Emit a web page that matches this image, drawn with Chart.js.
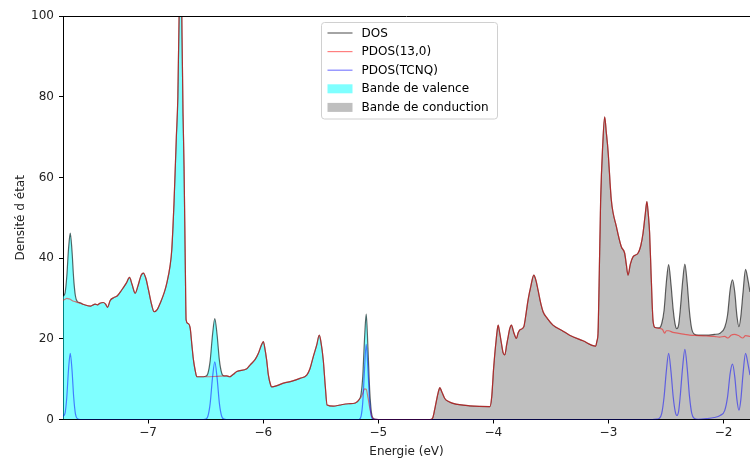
<!DOCTYPE html>
<html>
<head>
<meta charset="utf-8">
<script src="https://cdn.jsdelivr.net/npm/chart.js@4"></script>
<style>
  html, body { margin: 0; padding: 0; background: #fff; }
  #c { display: block; }
</style>
</head>
<body>
<canvas id="c" width="750" height="458"></canvas>
<script>
// ---------- DATA ----------
const xTicks = [-7, -6, -5, -4, -3, -2];
const yTicks = [0, 20, 40, 60, 80, 100];
const seriesLabels = ['DOS', 'PDOS(13,0)', 'PDOS(TCNQ)', 'Bande de valence', 'Bande de conduction'];
const fermiSplit = -4.8; // energy separating valence and conduction fills

// PDOS(13,0): [energy (eV), density]
const pdos13 = [
  [-7.74,29.5],[-7.722,29.8],[-7.707,30.0],[-7.692,29.9],[-7.677,29.8],[-7.662,29.5],[-7.647,29.3],[-7.632,29.2],
  [-7.615,29.0],[-7.59,28.8],[-7.56,28.5],[-7.50,28.1],[-7.46,28.6],[-7.44,28.4],[-7.42,28.8],[-7.39,29.0],
  [-7.37,28.6],[-7.353,27.8],[-7.33,29.5],[-7.30,30.2],[-7.27,30.6],[-7.23,32.1],[-7.19,33.8],[-7.162,35.2],
  [-7.14,33.5],[-7.113,31.3],[-7.09,33.0],[-7.06,35.8],[-7.041,36.3],[-7.02,35.0],[-6.997,32.1],[-6.97,28.5],
  [-6.948,26.7],[-6.92,27.3],[-6.896,28.8],[-6.86,31.5],[-6.838,33.8],[-6.81,38.0],[-6.795,42.0],[-6.775,54.0],
  [-6.755,70.0],[-6.742,80.0],[-6.731,100.0],[-6.722,130.0],[-6.712,112.0],[-6.706,96.0],[-6.697,76.0],[-6.688,62.7],
  [-6.677,38.0],[-6.670,24.7],[-6.655,23.8],[-6.635,22.7],[-6.62,18.5],[-6.606,14.7],[-6.59,12.0],[-6.577,10.6],
  [-6.49,10.6],[-6.40,10.7],[-6.317,10.8],[-6.29,10.6],[-6.274,10.9],[-6.26,11.2],[-6.23,11.9],[-6.143,12.6],
  [-6.115,13.5],[-6.07,14.9],[-6.042,16.4],[-6.015,18.5],[-5.999,19.3],[-5.985,17.5],[-5.970,14.7],[-5.955,11.0],
  [-5.935,8.5],[-5.926,8.1],[-5.88,8.4],[-5.825,9.0],[-5.75,9.5],[-5.681,10.2],[-5.622,11.0],[-5.595,12.5],
  [-5.565,15.6],[-5.535,18.5],[-5.513,20.9],[-5.50,19.5],[-5.478,14.7],[-5.46,8.0],[-5.445,3.6],[-5.391,3.3],
  [-5.333,3.6],[-5.26,3.9],[-5.20,4.1],[-5.165,5.0],[-5.15,5.5],[-5.135,6.5],[-5.12,7.6],[-5.105,7.5],
  [-5.09,5.5],[-5.075,3.0],[-5.06,1.0],[-5.045,0.2],[-5.025,0.02],[-5.0,0],[-4.55,0],[-4.529,0.3],
  [-4.51,2.5],[-4.494,4.8],[-4.475,7.2],[-4.465,7.9],[-4.45,7.0],[-4.422,5.2],[-4.385,4.4],[-4.35,4.0],
  [-4.205,3.4],[-4.031,3.2],[-4.015,5.5],[-3.997,13.1],[-3.975,20.0],[-3.959,23.4],[-3.945,21.5],[-3.93,18.9],
  [-3.915,16.5],[-3.901,16.0],[-3.885,18.5],[-3.872,20.5],[-3.858,22.5],[-3.843,23.4],[-3.822,21.5],[-3.80,20.1],
  [-3.785,21.5],[-3.771,22.2],[-3.736,23.0],[-3.715,26.5],[-3.699,29.6],[-3.675,33.0],[-3.649,35.8],[-3.63,34.5],
  [-3.612,32.1],[-3.59,29.0],[-3.568,26.7],[-3.53,25.0],[-3.482,23.4],[-3.40,22.0],[-3.337,20.9],[-3.221,19.5],
  [-3.111,18.2],[-3.10,19.5],[-3.091,21.4],[-3.08,36.0],[-3.068,54.4],[-3.05,68.0],[-3.033,75.0],[-3.018,71.0],
  [-3.004,66.8],[-2.975,54.4],[-2.931,47.8],[-2.888,42.8],[-2.859,41.2],[-2.845,38.5],[-2.83,35.8],[-2.81,38.5],
  [-2.787,40.3],[-2.744,41.2],[-2.72,43.0],[-2.70,46.1],[-2.68,51.0],[-2.666,54.0],[-2.654,51.0],[-2.642,46.1],
  [-2.628,35.0],[-2.613,24.7],[-2.595,22.8],[-2.56,22.6],[-2.53,22.3],[-2.512,21.4],[-2.497,22.0],[-2.477,22.0],
  [-2.44,21.6],[-2.40,21.4],[-2.336,21.1],[-2.295,20.9],[-2.22,20.8],[-2.15,20.7],[-2.08,20.6],[-2.035,20.4],
  [-1.99,20.6],[-1.962,20.2],[-1.935,20.9],[-1.906,21.1],[-1.87,20.8],[-1.833,20.2],[-1.809,20.8],[-1.77,20.6]
];

// PDOS(TCNQ)
const pdosTcnq = [
  [-7.74,0.8],[-7.722,1.6],[-7.707,5.5],[-7.692,12.4],[-7.677,16.4],[-7.662,12.4],[-7.647,5.5],[-7.632,1.4],
  [-7.615,0.2],[-7.59,0],[-6.52,0],[-6.50,0.1],[-6.481,0.8],[-6.461,4.0],[-6.441,10.3],[-6.421,14.3],
  [-6.401,10.3],[-6.381,4.0],[-6.361,0.8],[-6.34,0.1],[-6.32,0],[-5.17,0],[-5.15,0.8],[-5.135,4.3],
  [-5.12,12.3],[-5.105,18.6],[-5.09,12.3],[-5.075,4.3],[-5.06,0.8],[-5.045,0.1],[-5.0,0],
  [-2.62,0],[-2.58,0.1],[-2.557,0.3],[-2.537,1.5],[-2.517,5.5],[-2.497,12.0],[-2.477,16.4],[-2.457,12.0],
  [-2.437,5.5],[-2.42,2.0],[-2.406,1.0],[-2.39,2.1],[-2.376,5.9],[-2.356,12.8],[-2.336,17.4],[-2.316,12.8],
  [-2.296,5.8],[-2.276,1.5],[-2.256,0.3],[-2.22,0.05],[-2.15,0.2],[-2.08,0.5],[-2.03,1.0],[-1.99,2.2],
  [-1.965,5.6],[-1.942,11.5],[-1.922,13.7],[-1.902,10.5],[-1.884,5.0],[-1.866,2.3],[-1.85,4.8],[-1.83,11.5],
  [-1.809,16.4],[-1.789,14.0],[-1.77,11.0]
];

// total DOS
const dosTotal = [
  [-7.74,30.5],[-7.722,31.4],[-7.707,35.5],[-7.692,42.3],[-7.677,46.2],[-7.662,41.9],[-7.647,34.8],[-7.632,30.6],
  [-7.615,29.2],[-7.59,28.9],[-7.56,28.5],[-7.50,28.1],[-7.46,28.6],[-7.44,28.4],[-7.42,28.8],[-7.39,29.0],
  [-7.37,28.6],[-7.353,27.8],[-7.33,29.5],[-7.30,30.2],[-7.27,30.6],[-7.23,32.1],[-7.19,33.8],[-7.162,35.2],
  [-7.14,33.5],[-7.113,31.3],[-7.09,33.0],[-7.06,35.8],[-7.041,36.3],[-7.02,35.0],[-6.997,32.1],[-6.97,28.5],
  [-6.948,26.7],[-6.92,27.3],[-6.896,28.8],[-6.86,31.5],[-6.838,33.8],[-6.81,38.0],[-6.795,42.0],[-6.775,54.0],
  [-6.755,70.0],[-6.742,80.0],[-6.731,100.0],[-6.722,130.0],[-6.712,112.0],[-6.706,96.0],[-6.697,76.0],[-6.688,62.7],
  [-6.677,38.0],[-6.670,24.7],[-6.655,23.8],[-6.635,22.7],[-6.62,18.5],[-6.606,14.7],[-6.59,12.0],[-6.577,10.6],
  [-6.52,10.6],[-6.50,10.7],[-6.481,11.4],[-6.461,14.6],[-6.441,20.9],[-6.421,25.0],[-6.401,21.0],[-6.381,14.7],
  [-6.361,11.5],[-6.34,10.8],[-6.317,10.8],[-6.29,10.6],[-6.274,10.9],[-6.26,11.2],[-6.23,11.9],[-6.143,12.6],
  [-6.115,13.5],[-6.07,14.9],[-6.042,16.4],[-6.015,18.5],[-5.999,19.3],[-5.985,17.5],[-5.970,14.7],[-5.955,11.0],
  [-5.935,8.5],[-5.926,8.1],[-5.88,8.4],[-5.825,9.0],[-5.75,9.5],[-5.681,10.2],[-5.622,11.0],[-5.595,12.5],
  [-5.565,15.6],[-5.535,18.5],[-5.513,20.9],[-5.50,19.5],[-5.478,14.7],[-5.46,8.0],[-5.445,3.6],[-5.391,3.3],
  [-5.333,3.6],[-5.26,3.9],[-5.20,4.1],[-5.165,5.0],[-5.15,6.3],[-5.135,10.8],[-5.12,19.9],[-5.105,26.1],
  [-5.09,17.8],[-5.075,7.3],[-5.06,1.8],[-5.045,0.3],[-5.025,0.02],[-5.0,0],[-4.55,0],[-4.529,0.3],
  [-4.51,2.5],[-4.494,4.8],[-4.475,7.2],[-4.465,7.9],[-4.45,7.0],[-4.422,5.2],[-4.385,4.4],[-4.35,4.0],
  [-4.205,3.4],[-4.031,3.2],[-4.015,5.5],[-3.997,13.1],[-3.975,20.0],[-3.959,23.4],[-3.945,21.5],[-3.93,18.9],
  [-3.915,16.5],[-3.901,16.0],[-3.885,18.5],[-3.872,20.5],[-3.858,22.5],[-3.843,23.4],[-3.822,21.5],[-3.80,20.1],
  [-3.785,21.5],[-3.771,22.2],[-3.736,23.0],[-3.715,26.5],[-3.699,29.6],[-3.675,33.0],[-3.649,35.8],[-3.63,34.5],
  [-3.612,32.1],[-3.59,29.0],[-3.568,26.7],[-3.53,25.0],[-3.482,23.4],[-3.40,22.0],[-3.337,20.9],[-3.221,19.5],
  [-3.111,18.2],[-3.10,19.5],[-3.091,21.4],[-3.08,36.0],[-3.068,54.4],[-3.05,68.0],[-3.033,75.0],[-3.018,71.0],
  [-3.004,66.8],[-2.975,54.4],[-2.931,47.8],[-2.888,42.8],[-2.859,41.2],[-2.845,38.5],[-2.83,35.8],[-2.81,38.5],
  [-2.787,40.3],[-2.744,41.2],[-2.72,43.0],[-2.70,46.1],[-2.68,51.0],[-2.666,54.0],[-2.654,51.0],[-2.642,46.1],
  [-2.628,35.0],[-2.613,24.7],[-2.595,22.8],[-2.56,22.7],[-2.537,23.8],[-2.517,27.0],[-2.497,34.0],[-2.477,38.4],
  [-2.457,33.6],[-2.437,27.1],[-2.42,23.5],[-2.406,22.5],[-2.39,23.5],[-2.376,27.2],[-2.356,34.0],[-2.336,38.5],
  [-2.316,33.9],[-2.296,26.7],[-2.276,22.4],[-2.256,21.2],[-2.22,20.9],[-2.15,20.9],[-2.08,21.1],[-2.03,21.4],
  [-1.99,22.8],[-1.965,25.9],[-1.942,32.3],[-1.922,34.6],[-1.902,31.5],[-1.884,25.8],[-1.866,23.0],[-1.85,25.5],
  [-1.83,31.7],[-1.809,37.2],[-1.789,34.8],[-1.77,31.6]
];

// ---------- CHART ----------
const FONT = 'DejaVu Sans';
const toXY = arr => arr.map(p => ({ x: p[0], y: p[1] }));
const valenceBand = dosTotal.filter(p => p[0] <= fermiSplit);
const conductionBand = dosTotal.filter(p => p[0] >= fermiSplit);

const COLORS = {
  dos: 'rgba(0,0,0,0.6)',
  pdos13: 'rgba(255,0,0,0.5)',
  tcnq: 'rgba(0,0,255,0.5)',
  valence: 'rgba(0,255,255,0.5)',
  conduction: 'rgba(128,128,128,0.5)'
};

const lineDs = (label, data, color) => ({
  label, data: toXY(data), showLine: true, borderColor: color, borderWidth: 1.2,
  pointRadius: 0, pointHoverRadius: 0, cubicInterpolationMode: 'monotone', fill: false
});
const fillDs = (label, data, color) => ({
  label, data: toXY(data), showLine: true, borderWidth: 0, borderColor: 'rgba(0,0,0,0)',
  backgroundColor: color, pointRadius: 0, pointHoverRadius: 0, cubicInterpolationMode: 'monotone', fill: 'origin'
});

const fmtMinus = v => (v < 0 ? '\u2212' + Math.abs(v) : String(v));

const frameAndLegend = {
  id: 'frameAndLegend',
  afterDraw(chart) {
    const { ctx, chartArea: a } = chart;
    ctx.save();
    // top spine
    ctx.strokeStyle = '#000';
    ctx.lineWidth = 1;
    ctx.beginPath();
    ctx.moveTo(a.left, Math.round(a.top) + 0.5);
    ctx.lineTo(a.right, Math.round(a.top) + 0.5);
    ctx.stroke();

    // legend box
    const bx = a.left + 258.5, by = a.top + 6.5, bw = 176, bh = 96.5, r = 3;
    ctx.beginPath();
    ctx.moveTo(bx + r, by);
    ctx.lineTo(bx + bw - r, by); ctx.quadraticCurveTo(bx + bw, by, bx + bw, by + r);
    ctx.lineTo(bx + bw, by + bh - r); ctx.quadraticCurveTo(bx + bw, by + bh, bx + bw - r, by + bh);
    ctx.lineTo(bx + r, by + bh); ctx.quadraticCurveTo(bx, by + bh, bx, by + bh - r);
    ctx.lineTo(bx, by + r); ctx.quadraticCurveTo(bx, by, bx + r, by);
    ctx.closePath();
    ctx.fillStyle = 'rgba(255,255,255,0.8)';
    ctx.fill();
    ctx.strokeStyle = '#d0d0d0';
    ctx.lineWidth = 1;
    ctx.stroke();

    const items = [
      { ds: 2, kind: 'line' }, { ds: 1, kind: 'line' }, { ds: 0, kind: 'line' },
      { ds: 3, kind: 'patch' }, { ds: 4, kind: 'patch' }
    ];
    ctx.font = '12px "' + FONT + '"';
    ctx.textBaseline = 'middle';
    ctx.textAlign = 'left';
    items.forEach((it, i) => {
      const d = chart.data.datasets[it.ds];
      const yc = by + 10.5 + i * 18.6;
      const hx = bx + 6, hw = 25;
      if (it.kind === 'line') {
        ctx.strokeStyle = d.borderColor;
        ctx.lineWidth = 1.2;
        ctx.beginPath();
        ctx.moveTo(hx, yc); ctx.lineTo(hx + hw, yc);
        ctx.stroke();
      } else {
        ctx.fillStyle = d.backgroundColor;
        ctx.fillRect(hx, yc - 4.5, hw, 9);
      }
      ctx.fillStyle = '#000';
      ctx.fillText(d.label, bx + 40, yc + 0.5);
    });
    ctx.restore();
  }
};

new Chart(document.getElementById('c'), {
  type: 'scatter',
  data: {
    datasets: [
      lineDs(seriesLabels[2], pdosTcnq, COLORS.tcnq),
      lineDs(seriesLabels[1], pdos13, COLORS.pdos13),
      lineDs(seriesLabels[0], dosTotal, COLORS.dos),
      fillDs(seriesLabels[3], valenceBand, COLORS.valence),
      fillDs(seriesLabels[4], conductionBand, COLORS.conduction)
    ]
  },
  options: {
    responsive: false,
    animation: false,
    devicePixelRatio: 1,
    layout: { padding: { left: 0, right: 0, top: 16, bottom: 0 } },
    plugins: { legend: { display: false }, tooltip: { enabled: false } },
    scales: {
      x: {
        type: 'linear',
        min: -7.74, max: -1.77,
        afterBuildTicks: s => { s.ticks = xTicks.map(v => ({ value: v })); },
        afterFit: s => { s.height = 38.5; },
        grid: { display: true, drawOnChartArea: false, drawTicks: true, tickLength: 4, color: '#000', lineWidth: 1 },
        border: { display: true, color: '#000', width: 1 },
        ticks: { callback: v => fmtMinus(v), color: '#222', padding: 2, maxRotation: 0, autoSkip: false,
                 font: { family: FONT, size: 12, lineHeight: 1.2 } },
        title: { display: true, text: 'Energie (eV)', color: '#222', padding: { top: 0, bottom: 0 },
                 font: { family: FONT, size: 12, lineHeight: 1.1 } }
      },
      y: {
        type: 'linear',
        min: 0, max: 100,
        afterBuildTicks: s => { s.ticks = yTicks.map(v => ({ value: v })); },
        afterFit: s => { s.width = 63; },
        grid: { display: true, drawOnChartArea: false, drawTicks: true, tickLength: 4, color: '#000', lineWidth: 1 },
        border: { display: true, color: '#000', width: 1 },
        ticks: { callback: v => fmtMinus(v), color: '#222', padding: 5,
                 font: { family: FONT, size: 12, lineHeight: 1.2 } },
        title: { display: true, text: 'Densité d état', color: '#222', padding: { top: 14, bottom: 0 },
                 font: { family: FONT, size: 12, lineHeight: 1.2 } }
      }
    }
  },
  plugins: [frameAndLegend]
});
</script>
</body>
</html>
